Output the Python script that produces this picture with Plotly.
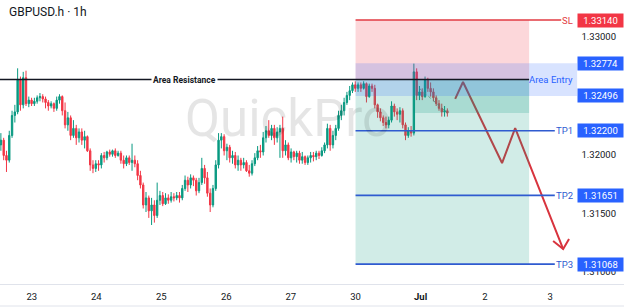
import plotly.graph_objects as go

# ---------------- data ----------------
bar_index = list(range(-9, 152))
first_open = 1.3208
closes = [1.3212,1.3199,1.3195,1.3216,1.3233,1.3236,1.3263,1.3242,1.3265,
 1.3243,1.3246,1.3243,1.3245,1.3248,1.3249,1.3247,1.3244,1.3241,1.3243,
 1.3239,1.3246,1.3249,1.3237,1.3225,1.3231,1.3216,1.3222,1.3214,1.3219,
 1.3212,1.3215,1.3203,1.3191,1.3188,1.3192,1.3191,1.3199,1.3197,1.3202,
 1.3200,1.3203,1.3199,1.3201,1.3195,1.3192,1.3197,1.3193,1.3195,1.3192,
 1.3182,1.3174,1.3157,1.3163,1.3152,1.3157,1.3148,1.3161,1.3165,1.3158,
 1.3163,1.3161,1.3164,1.3163,1.3165,1.3163,1.3171,1.3178,1.3174,1.3180,
 1.3178,1.3169,1.3176,1.3188,1.3180,1.3167,1.3157,1.3171,1.3191,1.3212,
 1.3215,1.3203,1.3206,1.3197,1.3199,1.3191,1.3195,1.3191,1.3193,1.3186,
 1.3184,1.3192,1.3197,1.3203,1.3202,1.3214,1.3220,1.3216,1.3222,1.3214,
 1.3219,1.3222,1.3203,1.3208,1.3197,1.3202,1.3198,1.3201,1.3195,1.3198,
 1.3193,1.3197,1.3199,1.3198,1.3201,1.3199,1.3203,1.3208,1.3222,1.3208,
 1.3216,1.3222,1.3233,1.3237,1.3244,1.3250,1.3254,1.3259,1.3256,1.3259,
 1.3256,1.3260,1.3249,1.3258,1.3256,1.3242,1.3236,1.3231,1.3227,1.3225,
 1.3229,1.3241,1.3236,1.3234,1.3237,1.3225,1.3216,1.3220,1.3218,1.3270,
 1.3250,1.3253,1.3249,1.3263,1.3256,1.3253,1.3248,1.3243,1.3239,1.3236,
 1.3237,1.3235]
highs = [1.3218,1.3214,1.3203,1.3220,1.3237,1.3242,1.3273,1.3266,1.3270,
 1.3271,1.3249,1.3248,1.3248,1.3250,1.3252,1.3251,1.3249,1.3246,1.3245,
 1.3244,1.3249,1.3251,1.3250,1.3244,1.3236,1.3233,1.3229,1.3225,1.3222,
 1.3222,1.3220,1.3216,1.3205,1.3195,1.3195,1.3195,1.3201,1.3202,1.3203,
 1.3204,1.3204,1.3205,1.3203,1.3203,1.3199,1.3199,1.3199,1.3209,1.3199,
 1.3195,1.3186,1.3176,1.3168,1.3165,1.3163,1.3161,1.3176,1.3169,1.3168,
 1.3167,1.3166,1.3168,1.3167,1.3168,1.3168,1.3174,1.3182,1.3181,1.3183,
 1.3182,1.3180,1.3180,1.3197,1.3191,1.3185,1.3171,1.3174,1.3195,1.3218,
 1.3218,1.3217,1.3209,1.3208,1.3203,1.3202,1.3199,1.3197,1.3197,1.3195,
 1.3191,1.3195,1.3201,1.3207,1.3208,1.3219,1.3224,1.3229,1.3225,1.3225,
 1.3223,1.3225,1.3232,1.3212,1.3210,1.3205,1.3203,1.3203,1.3203,1.3202,
 1.3199,1.3199,1.3202,1.3202,1.3203,1.3203,1.3206,1.3210,1.3226,1.3225,
 1.3220,1.3225,1.3237,1.3242,1.3248,1.3253,1.3258,1.3261,1.3262,1.3261,
 1.3261,1.3262,1.3261,1.3260,1.3260,1.3259,1.3243,1.3239,1.3233,1.3232,
 1.3232,1.3245,1.3243,1.3239,1.3240,1.3239,1.3227,1.3223,1.3224,1.3277,
 1.3273,1.3258,1.3256,1.3266,1.3265,1.3261,1.3256,1.3250,1.3246,1.3243,
 1.3241,1.3239]
lows = [1.3203,1.3195,1.3185,1.3193,1.3214,1.3227,1.3234,1.3237,1.3239,
 1.3241,1.3240,1.3241,1.3241,1.3243,1.3245,1.3244,1.3239,1.3237,1.3239,
 1.3236,1.3237,1.3243,1.3233,1.3222,1.3220,1.3212,1.3214,1.3208,1.3210,
 1.3208,1.3205,1.3202,1.3186,1.3184,1.3185,1.3186,1.3188,1.3193,1.3195,
 1.3198,1.3198,1.3197,1.3198,1.3192,1.3188,1.3190,1.3191,1.3186,1.3189,
 1.3178,1.3171,1.3154,1.3151,1.3146,1.3140,1.3142,1.3146,1.3157,1.3156,
 1.3157,1.3158,1.3159,1.3160,1.3161,1.3159,1.3161,1.3169,1.3168,1.3171,
 1.3173,1.3165,1.3167,1.3174,1.3175,1.3164,1.3151,1.3155,1.3169,1.3188,
 1.3205,1.3199,1.3195,1.3193,1.3192,1.3188,1.3186,1.3186,1.3188,1.3185,
 1.3181,1.3182,1.3190,1.3195,1.3197,1.3199,1.3210,1.3214,1.3212,1.3208,
 1.3210,1.3197,1.3197,1.3199,1.3195,1.3193,1.3195,1.3193,1.3192,1.3192,
 1.3191,1.3191,1.3193,1.3194,1.3195,1.3196,1.3198,1.3201,1.3205,1.3203,
 1.3205,1.3212,1.3220,1.3229,1.3233,1.3242,1.3246,1.3252,1.3253,1.3253,
 1.3253,1.3255,1.3244,1.3248,1.3253,1.3239,1.3231,1.3228,1.3224,1.3222,
 1.3222,1.3227,1.3232,1.3229,1.3227,1.3222,1.3212,1.3214,1.3215,1.3216,
 1.3246,1.3246,1.3246,1.3248,1.3253,1.3249,1.3245,1.3241,1.3237,1.3232,
 1.3232,1.3232]
opens = [first_open] + closes[:-1]

day_ticks = [2.1, 25.2, 48.5, 71.8, 94.9, 118.1, 141.4, 164.5, 187.8]
day_labels = ["23", "24", "25", "26", "27", "30", "<b>Jul</b>", "2", "3"]
price_ticks = [1.33, 1.32, 1.315, 1.31]
price_tick_labels = ["1.33000", "1.32000", "1.31500", "1.31000"]

# trade levels
sl_level = 1.33140
entry_level = 1.32635
zone_hi = 1.32774
zone_lo = 1.32496
tp_levels = [1.32200, 1.31651, 1.31068]
tp_names = ["TP1", "TP2", "TP3"]

# projected path (bar index, price)
path_x = [153.8, 156.6, 170.6, 175.3, 192.5]
path_y = [1.32470, 1.32614, 1.31926, 1.32223, 1.31196]
head_x = [188.9, 192.5, 194.6]
head_y = [1.31264, 1.31196, 1.31281]

# ---------------- geometry ----------------
W, H = 624, 308
X_MIN, X_MAX = -9.32, 214.3
Y_MIN, Y_MAX = 1.30899, 1.33310
pos_x0, pos_x1 = 118.1, 180.3
sl_x1, tp_x1, box_x1 = 191.8, 189.5, 197.5
hit_x0 = 138.7

GREEN = "#089981"
RED = "#f23645"
BLUE = "#2962ff"
LINE_BLUE = "#2f5bd0"
LINE_RED = "#e23b43"
FONT = "Roboto"

fig = go.Figure()
fig.add_trace(go.Candlestick(
    x=bar_index, open=opens, high=highs, low=lows, close=closes,
    increasing=dict(line=dict(color=GREEN, width=1), fillcolor=GREEN),
    decreasing=dict(line=dict(color=RED, width=1), fillcolor=RED),
    whiskerwidth=0, hoverinfo="skip",
))

shapes = [
    dict(type="rect", x0=pos_x0, x1=pos_x1, y0=entry_level, y1=sl_level,
         fillcolor="rgba(242,54,69,0.2)", line=dict(width=0), layer="above"),
    dict(type="rect", x0=pos_x0, x1=pos_x1, y0=tp_levels[-1], y1=entry_level,
         fillcolor="rgba(8,153,129,0.19)", line=dict(width=0), layer="above"),
    dict(type="rect", x0=hit_x0, x1=pos_x1, y0=closes[-1], y1=entry_level,
         fillcolor="rgba(8,153,129,0.2)", line=dict(width=0), layer="above"),
    dict(type="rect", x0=pos_x0, x1=box_x1, y0=zone_lo, y1=zone_hi,
         fillcolor="rgba(41,98,255,0.18)", line=dict(width=0), layer="above"),
    dict(type="line", x0=X_MIN, x1=pos_x1, y0=entry_level, y1=entry_level,
         line=dict(color="#131722", width=1.6), layer="above"),
    dict(type="line", x0=pos_x0, x1=sl_x1, y0=sl_level, y1=sl_level,
         line=dict(color=LINE_RED, width=1.6), layer="above"),
    dict(type="line", xref="paper", yref="paper", x0=0, x1=1, y0=2 / H, y1=2 / H,
         line=dict(color="#e0e3eb", width=1)),
]
for lv in tp_levels:
    shapes.append(dict(type="line", x0=pos_x0, x1=tp_x1, y0=lv, y1=lv,
                       line=dict(color=LINE_BLUE, width=1.6), layer="above"))

# dotted position line + projected arrow
fig.add_trace(go.Scatter(x=[141, 151], y=[1.3256, closes[-1]], mode="lines",
                         line=dict(color="rgba(120,120,120,0.8)", width=1, dash="dot"),
                         hoverinfo="skip"))
fig.add_trace(go.Scatter(x=path_x, y=path_y, mode="lines",
                         line=dict(color="#d8343e", width=2), hoverinfo="skip"))
fig.add_trace(go.Scatter(x=head_x, y=head_y, mode="lines",
                         line=dict(color="#d8343e", width=2), hoverinfo="skip"))

ann = []
def px(x):
    return x / W

# title + watermark
ann.append(dict(xref="paper", yref="paper", x=px(7), y=1 - 12 / H, xanchor="left",
                yanchor="middle", text="GBPUSD.h · 1h", showarrow=False,
                font=dict(family=FONT, size=12, color="#131722")))
ann.append(dict(xref="paper", yref="paper", x=px(288), y=1 - 118 / H, xanchor="center",
                yanchor="middle", text="QuickPro", showarrow=False,
                font=dict(family=FONT, size=51, color="rgba(0,0,0,0.10)")))
# Area Resistance
ann.append(dict(xref="paper", yref="y", x=px(184), y=entry_level, xanchor="center",
                yanchor="middle", text="<b>Area Resistance</b>",
                showarrow=False, bgcolor="white", borderpad=1,
                font=dict(family=FONT, size=8.5, color="#131722")))
ann.append(dict(xref="paper", yref="y", x=px(575), y=entry_level, xanchor="right",
                text="Area Entry", showarrow=False,
                font=dict(family=FONT, size=9.5, color=BLUE)))
# line names
ann.append(dict(xref="paper", yref="y", x=px(575), y=sl_level, xanchor="right",
                text="SL", showarrow=False, font=dict(family=FONT, size=9.5, color=LINE_RED)))
for lv, nm in zip(tp_levels, tp_names):
    ann.append(dict(xref="paper", yref="y", x=px(575), y=lv, xanchor="right",
                    text=nm, showarrow=False, font=dict(family=FONT, size=9.5, color=LINE_BLUE)))
# price boxes
def box(level, color):
    return dict(xref="paper", yref="y", x=px(577), y=level, xanchor="left", yanchor="middle",
                text=f"{level:.5f}", showarrow=False, bgcolor=color, width=43,
                borderpad=1, font=dict(family=FONT, size=9.5, color="white"))
ann.append(box(sl_level, RED))
for lv in [zone_hi, zone_lo] + tp_levels:
    ann.append(box(lv, BLUE))

fig.update_layout(
    width=W, height=H, margin=dict(l=0, r=0, t=0, b=0),
    paper_bgcolor="white", plot_bgcolor="white", showlegend=False,
    font=dict(family=FONT),
    shapes=shapes, annotations=ann,
    xaxis=dict(domain=[0, 1], range=[X_MIN, X_MAX], tickvals=day_ticks, ticktext=day_labels,
               showgrid=False, zeroline=False, showline=True, linecolor="#e0e3eb", linewidth=1,
               ticks="", tickfont=dict(family=FONT, size=9.5, color="#131722"),
               rangeslider=dict(visible=False), fixedrange=True, ticklabelstandoff=4),
    yaxis=dict(domain=[24 / H, 1], range=[Y_MIN, Y_MAX], side="right",
               ticklabelposition="inside", tickvals=price_ticks, ticktext=price_tick_labels,
               showgrid=False, zeroline=False, showline=False, ticks="",
               tickfont=dict(family=FONT, size=9.5, color="#131722"), fixedrange=True,
               ticklabelstandoff=5),
)

fig.write_html("out.html")
